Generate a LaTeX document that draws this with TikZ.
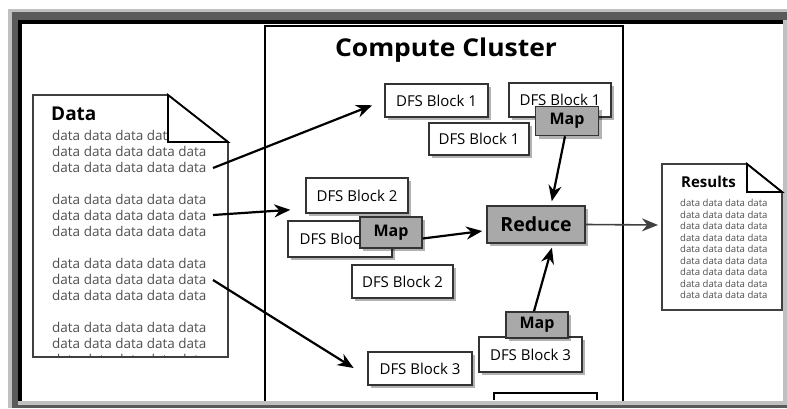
\documentclass[tikz,border=0pt]{standalone}
\usepackage{fontspec}
\setmainfont{Open Sans}
\usetikzlibrary{arrows.meta,shadows}
\definecolor{framegray}{HTML}{C0C0C0}
\definecolor{banddark}{HTML}{5A5A5A}
\definecolor{mapgray}{HTML}{A9A9A9}
\definecolor{textgray}{HTML}{505050}
\tikzset{
  block/.style={draw=black!80, line width=1.6pt, fill=white, minimum width=103pt, minimum height=33pt, inner sep=0pt, font=\fontsize{15}{15}\selectfont, drop shadow={shadow xshift=3pt, shadow yshift=-3pt, opacity=0.3, fill=black}},
  task/.style={block, fill=mapgray, minimum width=63pt, minimum height=29pt, font=\fontsize{16}{16}\selectfont\bfseries},
  flow/.style={line width=2.2pt, -{Stealth[length=16pt, width=13pt]}, shorten >=4pt},
  doc/.style={draw=black!75, line width=1.8pt},
  fold/.style={draw=black, line width=1.8pt, fill=white},
  dataline/.style={anchor=west, inner sep=0pt, text=textgray, font=\fontsize{13.5}{13.5}\selectfont},
  resline/.style={anchor=west, inner sep=0pt, text=textgray, font=\fontsize{9.6}{9.6}\selectfont},
}
\begin{document}
\begin{tikzpicture}[x=1pt,y=-1pt]
  \useasboundingbox (0,0) rectangle (787,408);
  % frame
  \fill[framegray] (8,9) rectangle (787,408);
  \fill[banddark] (12,12) rectangle (787,20);
  \fill[banddark] (12,12) rectangle (18,408);
  \fill[banddark] (12,405) rectangle (787,408);
  \fill[black] (18,20) rectangle (783,24);
  \fill[black] (18,20) rectangle (22,401);
  \fill[white] (22,24) rectangle (783,401);
  % cluster
  \draw[line width=1.5pt] (265,401) -- (265,26) -- (623,26) -- (623,401);
  \node[font=\fontsize{24.5}{24.5}\selectfont\bfseries, anchor=base] (title) at (446,56) {\scalebox{1.08}[1]{Compute Cluster}};
  % data file
  \fill[white] (33,95) -- (168,95) -- (228,142) -- (228,357) -- (33,357) -- cycle;
  \begin{scope}
    \clip (33,95) -- (168,95) -- (228,142) -- (228,357) -- (33,357) -- cycle;
    \foreach \g in {0,...,3}
      \foreach \l in {0,1,2}
        \node[dataline] at (52,135+64*\g+16*\l) {data data data data data};
  \end{scope}
  \draw[doc] (33,95) -- (168,95) -- (228,142) -- (228,357) -- (33,357) -- cycle;
  \draw[fold] (168,95) -- (168,142) -- (228,142) -- cycle;
  \node[anchor=west, inner sep=0pt, font=\fontsize{19}{19}\selectfont\bfseries] (datatitle) at (51,114) {Data};
  \coordinate (d1) at (213,168);
  \coordinate (d2) at (213,215);
  \coordinate (d3) at (213,280);
  % results file
  \draw[doc, fill=white] (662,164) -- (747,164) -- (782,192) -- (782,310) -- (662,310) -- cycle;
  \draw[fold] (747,164) -- (747,192) -- (782,192) -- cycle;
  \node[anchor=west, inner sep=0pt, font=\fontsize{15}{15}\selectfont\bfseries] (restitle) at (681,182) {Results};
  \foreach \l in {0,...,8}
    \node[resline] at (680,203+11.5*\l) {data data data data};
  \coordinate (res) at (662,225);
  % blocks
  \node[block] (blkA1) at (436.5,100.5) {DFS Block 1};
  \node[block, minimum width=102pt, minimum height=34pt] (blkB1) at (560,100) {DFS Block 1};
  \node[task] (mapA) at (567,121) {Map};
  \node[block, minimum width=100pt, minimum height=32pt] (blkC1) at (479,139) {DFS Block 1};
  \node[block, minimum width=102pt, minimum height=35pt] (blkA2) at (357,195.5) {DFS Block 2};
  \node[block, minimum width=104pt, minimum height=36pt] (blkB2) at (340,239) {DFS Block 2};
  \node[task, minimum width=62pt, minimum height=31pt] (mapB) at (391,232.5) {Map};
  \node[block, minimum width=101pt] (blkC2) at (402.5,281.5) {DFS Block 2};
  \node[task, minimum width=98pt, minimum height=37pt, font=\fontsize{19.5}{19.5}\selectfont\bfseries] (reduce) at (536,224.5) {Reduce};
  \node[block, minimum height=35pt] (blkB3) at (530.5,354.5) {DFS Block 3};
  \node[task, minimum width=62pt, minimum height=26pt] (mapC) at (537,325) {Map};
  \node[block, minimum width=104pt] (blkA3) at (420,368.5) {DFS Block 3};
  \draw[line width=1.5pt] (494,400) -- (494,393) -- (597,393) -- (597,400);
  % arrows
  \draw[flow, shorten >=13pt] (d1) -- (blkA1.west);
  \draw[flow, shorten >=15pt] (d2) -- ([yshift=5pt]blkA2.south west);
  \draw[flow, shorten >=16pt] (d3) -- ([yshift=-8pt]blkA3.west);
  \draw[flow] ([xshift=-2pt]mapA.south) -- ([xshift=15pt]reduce.north);
  \draw[flow] ([yshift=-6pt]mapB.east) -- ([yshift=-6pt]reduce.west);
  \draw[flow] ([xshift=-3pt]mapC.north) -- ([xshift=17pt]reduce.south);
  \draw[flow, line width=1.6pt, draw=black!75] (reduce.east) -- (res);
\end{tikzpicture}
\end{document}
